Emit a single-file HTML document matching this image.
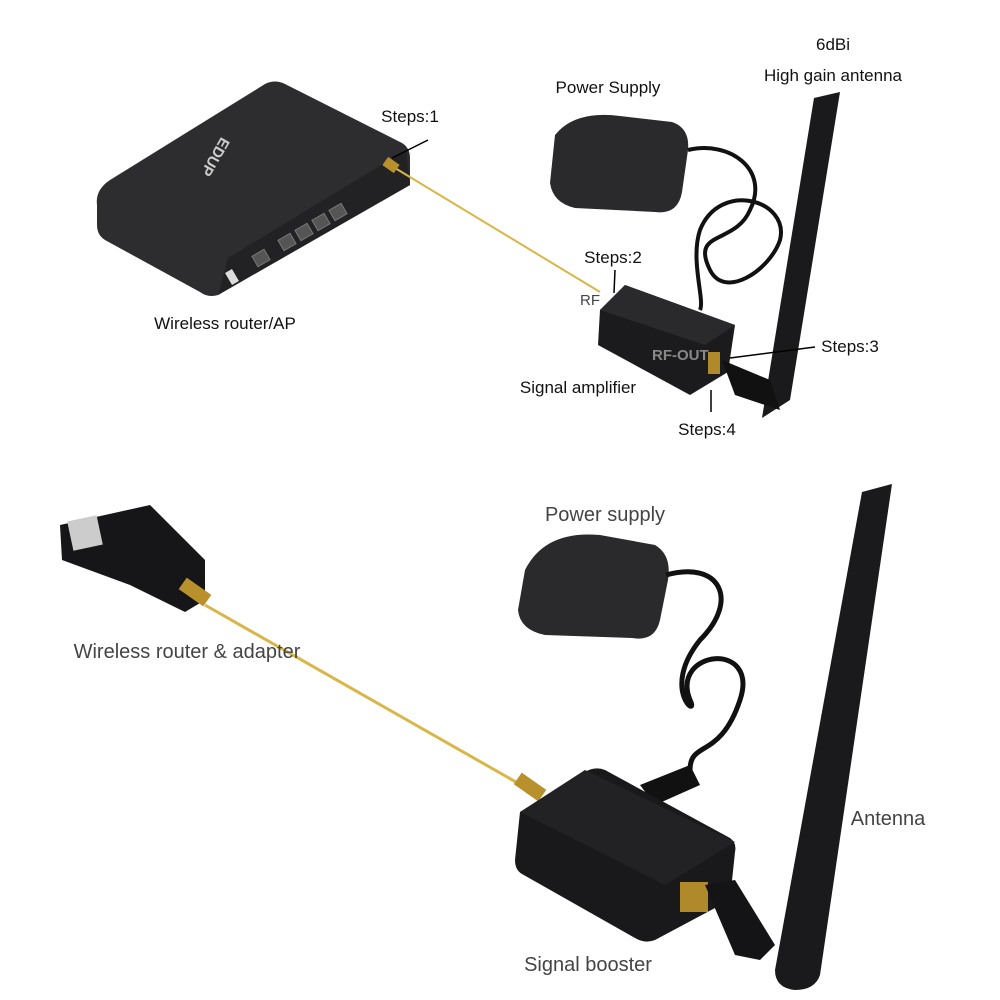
<!DOCTYPE html>
<html><head><meta charset="utf-8"><style>
html,body{margin:0;padding:0;background:#fff;}
svg{display:block}
text{font-family:"Liberation Sans",sans-serif;}
.t{font-size:17px;fill:#111;}
.b{font-size:20px;fill:#444;}
</style></head><body>
<svg width="1000" height="1000" viewBox="0 0 1000 1000">
<!-- router -->
<path d="M97,205 Q95,190 110,180 L265,84 Q275,79 285,84 L402,143 Q410,148 410,158 L410,185 L218,295 Q208,298 200,292 L105,240 Q97,235 97,225 Z" fill="#2d2d30"/>
<polygon points="228,258 406,150 410,185 218,295" fill="#222225"/>
<rect x="228" y="270" width="8" height="14" fill="#ddd" transform="rotate(-30 232 277)"/>
<g fill="#555" stroke="#777" stroke-width="1">
<rect x="254" y="252" width="14" height="12" transform="rotate(-30 261 258)"/>
<rect x="280" y="236" width="14" height="12" transform="rotate(-30 287 242)"/>
<rect x="297" y="226" width="14" height="12" transform="rotate(-30 304 232)"/>
<rect x="314" y="216" width="14" height="12" transform="rotate(-30 321 222)"/>
<rect x="331" y="206" width="14" height="12" transform="rotate(-30 338 212)"/>
</g>
<text x="215" y="150" font-size="15" fill="#ccc" font-weight="bold" transform="rotate(-60 225 150) rotate(180 225 145)">EDUP</text>
<!-- cable -->
<line x1="395" y1="168" x2="600" y2="292" stroke="#d9b648" stroke-width="2"/>
<rect x="384" y="160" width="14" height="10" fill="#b8902c" transform="rotate(35 391 165)"/>
<path d="M428,140 L392,158" stroke="#000" stroke-width="1.5"/>
<!-- power supply top -->
<path d="M555,135 Q575,110 620,116 L672,122 Q690,128 688,150 L682,192 Q678,215 655,212 L575,208 Q553,203 550,183 Z" fill="#2a2a2c"/>
<path d="M688,150 C730,140 770,170 750,210 C735,245 690,230 710,270 C725,300 770,270 780,240 C790,200 720,180 700,230 C690,260 705,300 700,310" stroke="#111" stroke-width="4" fill="none"/>
<!-- amplifier top -->
<polygon points="600,310 625,285 735,325 728,372 690,395 598,345" fill="#1b1b1d"/>
<polygon points="600,310 625,285 735,325 705,345" fill="#2a2a2d"/>
<rect x="708" y="352" width="12" height="22" fill="#b08a2a"/>
<!-- antenna top -->
<polygon points="814,98 840,92 790,400 762,418" fill="#1a1a1c"/>
<polygon points="722,360 770,380 780,410 735,395" fill="#111"/>
<!-- top labels -->
<text class="t" x="833" y="50" text-anchor="middle">6dBi</text>
<text class="t" x="833" y="81" text-anchor="middle">High gain antenna</text>
<text class="t" x="608" y="93" text-anchor="middle">Power Supply</text>
<text class="t" x="410" y="122" text-anchor="middle">Steps:1</text>
<text class="t" x="613" y="263" text-anchor="middle">Steps:2</text>
<text x="580" y="305" font-size="15" fill="#444">RF</text>
<text x="652" y="360" font-size="15" fill="#888" font-weight="bold">RF-OUT</text>
<text class="t" x="850" y="352" text-anchor="middle">Steps:3</text>
<text class="t" x="578" y="393" text-anchor="middle">Signal amplifier</text>
<text class="t" x="707" y="435" text-anchor="middle">Steps:4</text>
<text class="t" x="225" y="329" text-anchor="middle">Wireless router/AP</text>
<line x1="615" y1="270" x2="614" y2="293" stroke="#000" stroke-width="1.5"/>
<line x1="815" y1="347" x2="730" y2="358" stroke="#000" stroke-width="1.5"/>
<line x1="711" y1="412" x2="711" y2="390" stroke="#000" stroke-width="1.5"/>
<!-- usb adapter -->
<polygon points="60,525 150,505 205,560 205,600 185,612 130,585 62,560" fill="#161618"/>
<rect x="70" y="518" width="30" height="30" fill="#ccc" transform="rotate(-12 85 533)"/>
<rect x="180" y="585" width="30" height="14" fill="#b8902c" transform="rotate(35 195 592)"/>
<line x1="205" y1="605" x2="530" y2="790" stroke="#d9b648" stroke-width="3"/>
<rect x="515" y="780" width="30" height="14" fill="#b8902c" transform="rotate(35 530 787)"/>
<!-- power supply bottom -->
<path d="M525,570 Q545,530 600,535 L655,545 Q672,555 668,580 L660,620 Q655,642 632,638 L545,635 Q520,630 518,610 Z" fill="#2a2a2c"/>
<path d="M666,575 C720,560 740,600 700,640 C660,690 700,720 690,700 C670,650 760,640 740,700 C720,760 690,740 690,770" stroke="#111" stroke-width="5" fill="none"/>
<path d="M690,765 L640,785 L655,805 L700,785 Z" fill="#111"/>
<!-- booster -->
<path d="M520,812 L585,772 Q595,766 605,770 L730,838 Q737,843 735,852 L730,900 L655,940 Q645,944 635,938 L522,874 Q515,870 515,860 Z" fill="#19191b"/>
<polygon points="520,812 585,770 735,842 665,885" fill="#222225"/>
<rect x="680" y="882" width="28" height="30" fill="#b08a2a"/>
<polygon points="705,885 735,880 775,945 760,960 735,955" fill="#141416"/>
<!-- antenna bottom -->
<path d="M862,492 L892,484 L820,975 Q815,990 795,990 Q775,988 775,970 Z" fill="#1a1a1c"/>
<!-- bottom labels -->
<text class="b" x="187" y="658" text-anchor="middle">Wireless router &amp; adapter</text>
<text class="b" x="605" y="521" text-anchor="middle">Power supply</text>
<text class="b" x="888" y="825" text-anchor="middle">Antenna</text>
<text class="b" x="588" y="971" text-anchor="middle">Signal booster</text>
</svg>
</body></html>
